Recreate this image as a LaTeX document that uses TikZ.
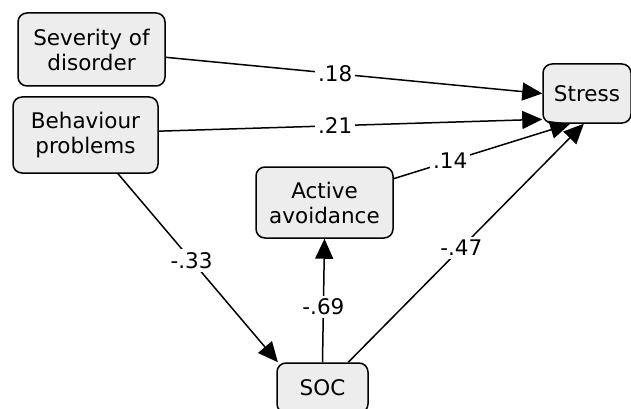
\documentclass[tikz,border=0pt]{standalone}
\usepackage{fontspec}
\setmainfont{DejaVu Sans}
\usepackage{tikz}
\usetikzlibrary{arrows.meta}
\tikzset{var/.style={rectangle, draw, rounded corners=9pt, fill=black!7, line width=1.5pt, align=center, inner sep=2pt}}
\tikzset{path/.style={line width=1.5pt, -{Triangle[length=20pt, width=18pt]}}}
\tikzset{coef/.style={fill=white, inner sep=3pt}}

\begin{document}
\begin{tikzpicture}[x=1pt,y=-1pt]
  \fontsize{21.5}{25}\selectfont
  \useasboundingbox (0,0) rectangle (631,409);
  \foreach \x/\y/\w/\h/\lab/\txt in {
    91.5/49.5/147/73/sev/{Severity of\\disorder},
    85.5/135/145/76/beh/{Behaviour\\problems},
    587/93.5/88/59/stress/{Stress},
    324.5/202.5/137/71/avoid/{Active\\avoidance},
    322.5/388/91/50/soc/{SOC}%
  } {
    \node[var, minimum width=\w pt, minimum height=\h pt] (\lab) at (\x, \y) {\txt};
  }
  \foreach \u/\v/\c/\p in {
    sev.-6/stress.west/.18/.45,
    beh.3/stress.210/.21/.46,
    avoid.19/stress.241/.14/.32,
    soc.45/stress.264/-.47/.48,
    beh.-50/soc.150/-.33/.46,
    soc.north/avoid.south/-.69/.45%
  }{
    \draw[path] (\u) -- node[coef, pos=\p] {\c} (\v);
  }

\end{tikzpicture}
\end{document}
